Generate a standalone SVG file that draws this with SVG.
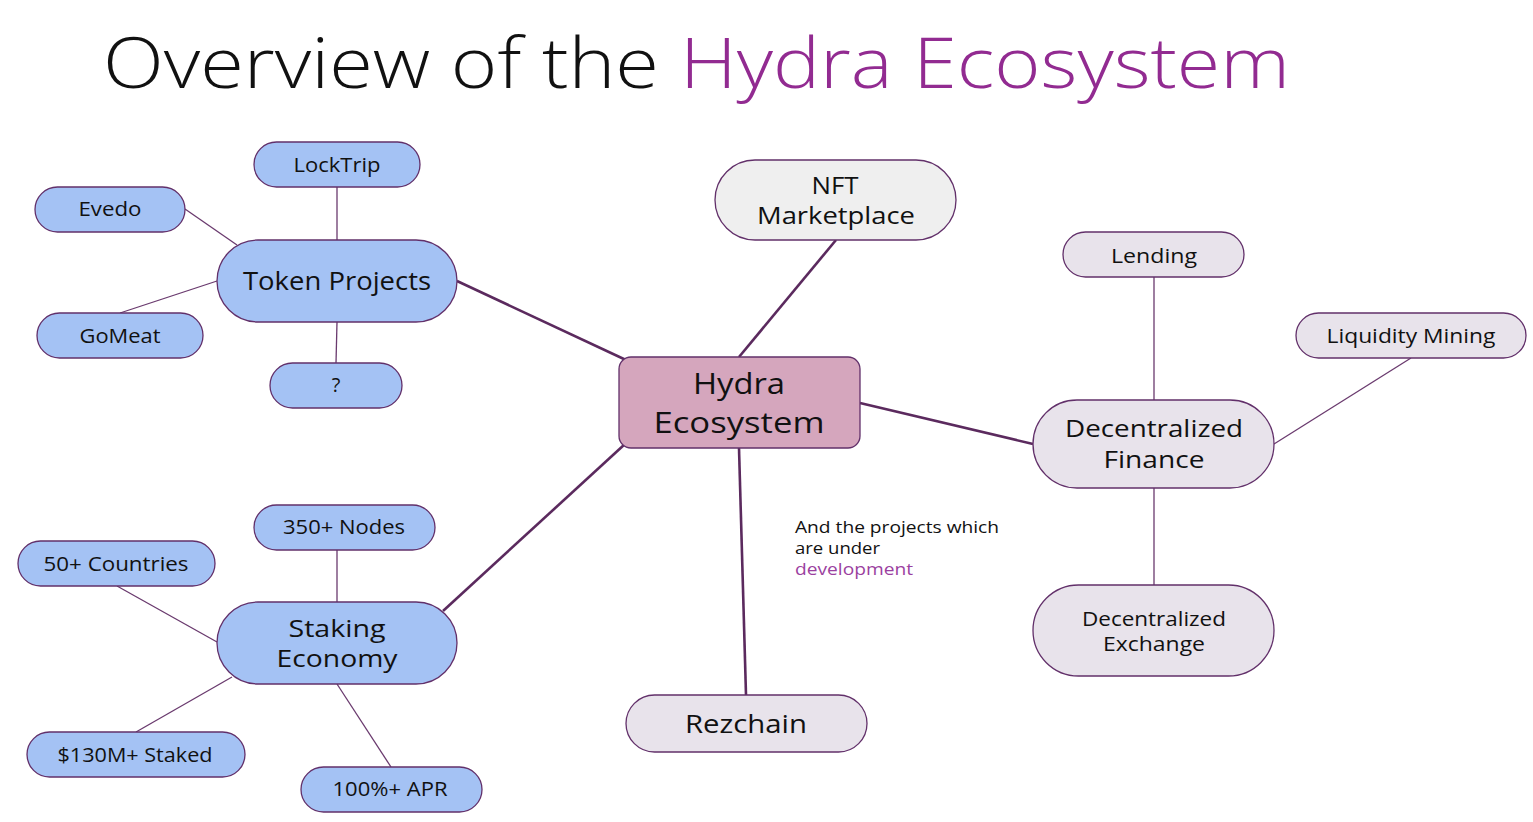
<svg xmlns="http://www.w3.org/2000/svg" width="1533" height="822" viewBox="0 0 1533 822">
<style>
text{font-family:"Open Sans","Liberation Sans",sans-serif;fill:#111;text-anchor:middle}
.title{font-size:70px;font-weight:300;text-anchor:start}
.blue{fill:#A4C2F4;stroke:#62306A;stroke-width:1.3}
.lav{fill:#E8E3EB;stroke:#62306A;stroke-width:1.3}
.gray{fill:#EFEFEF;stroke:#62306A;stroke-width:1.3}
.pink{fill:#D5A6BD;stroke:#62306A;stroke-width:1.3}
.thick{stroke:#5B2A5E;stroke-width:2.6;fill:none}
.thin{stroke:#6A3A6E;stroke-width:1.3;fill:none}
.s20{font-size:20px}
.s24{font-size:24px}
.note{font-size:16px;text-anchor:start}
</style>
<rect width="1533" height="822" fill="#fff"/>
<g id="title">
<text class="title" x="103" y="88" textLength="556" lengthAdjust="spacingAndGlyphs">Overview of the</text>
<text class="title" x="680" y="88" textLength="610" lengthAdjust="spacingAndGlyphs" style="fill:#922B91">Hydra Ecosystem</text>
</g>
<g id="connectors">
<line class="thick" x1="626" y1="360" x2="457" y2="281"/>
<line class="thick" x1="739" y1="357" x2="836" y2="240"/>
<line class="thick" x1="860" y1="403" x2="1033" y2="444"/>
<line class="thick" x1="739" y1="448" x2="746" y2="695"/>
<line class="thick" x1="625" y1="444" x2="443" y2="611"/>
<line class="thin" x1="337" y1="187" x2="337" y2="240"/>
<line class="thin" x1="185" y1="209" x2="237" y2="245"/>
<line class="thin" x1="120" y1="313" x2="217" y2="281"/>
<line class="thin" x1="336" y1="363" x2="337" y2="322"/>
<line class="thin" x1="1154" y1="277" x2="1154" y2="400"/>
<line class="thin" x1="1411" y1="358" x2="1274" y2="444"/>
<line class="thin" x1="1154" y1="488" x2="1154" y2="585"/>
<line class="thin" x1="337" y1="550" x2="337" y2="602"/>
<line class="thin" x1="117" y1="586" x2="217" y2="642"/>
<line class="thin" x1="136" y1="732" x2="232" y2="677"/>
<line class="thin" x1="391" y1="767" x2="337" y2="684"/>
</g>
<g id="token-projects">
<rect class="blue" x="217" y="240" width="240" height="82" rx="41"/>
<text x="337" y="290" style="font-size:25px" textLength="188" lengthAdjust="spacingAndGlyphs">Token Projects</text>
</g>
<g id="locktrip">
<rect class="blue" x="254" y="142" width="166" height="45" rx="22.5"/>
<text class="s20" x="337" y="172" textLength="87" lengthAdjust="spacingAndGlyphs">LockTrip</text>
</g>
<g id="evedo">
<rect class="blue" x="35" y="187" width="150" height="45" rx="22.5"/>
<text class="s20" x="110" y="216" textLength="63" lengthAdjust="spacingAndGlyphs">Evedo</text>
</g>
<g id="gomeat">
<rect class="blue" x="37" y="313" width="166" height="45" rx="22.5"/>
<text class="s20" x="120" y="343" textLength="81" lengthAdjust="spacingAndGlyphs">GoMeat</text>
</g>
<g id="unknown">
<rect class="blue" x="270" y="363" width="132" height="45" rx="22.5"/>
<text class="s20" x="336" y="392">?</text>
</g>
<g id="hydra">
<rect class="pink" x="619" y="357" width="241" height="91" rx="12"/>
<text x="739" y="394" style="font-size:30px" textLength="92" lengthAdjust="spacingAndGlyphs">Hydra</text>
<text x="739" y="433" style="font-size:30px" textLength="171" lengthAdjust="spacingAndGlyphs">Ecosystem</text>
</g>
<g id="nft">
<rect class="gray" x="715" y="160" width="241" height="80" rx="40"/>
<text class="s24" x="835" y="194" textLength="47" lengthAdjust="spacingAndGlyphs">NFT</text>
<text class="s24" x="836" y="224" textLength="158" lengthAdjust="spacingAndGlyphs">Marketplace</text>
</g>
<g id="defi">
<rect class="lav" x="1033" y="400" width="241" height="88" rx="44"/>
<text class="s24" x="1154" y="437" textLength="178" lengthAdjust="spacingAndGlyphs">Decentralized</text>
<text class="s24" x="1154" y="468" textLength="101" lengthAdjust="spacingAndGlyphs">Finance</text>
</g>
<g id="lending">
<rect class="lav" x="1063" y="232" width="181" height="45" rx="22.5"/>
<text class="s20" x="1154" y="263" textLength="86" lengthAdjust="spacingAndGlyphs">Lending</text>
</g>
<g id="liquidity">
<rect class="lav" x="1296" y="313" width="230" height="45" rx="22.5"/>
<text class="s20" x="1411" y="343" textLength="169" lengthAdjust="spacingAndGlyphs">Liquidity Mining</text>
</g>
<g id="dex">
<rect class="lav" x="1033" y="585" width="241" height="91" rx="45.5"/>
<text class="s20" x="1154" y="626" textLength="144" lengthAdjust="spacingAndGlyphs">Decentralized</text>
<text class="s20" x="1154" y="651" textLength="102" lengthAdjust="spacingAndGlyphs">Exchange</text>
</g>
<g id="rezchain">
<rect class="lav" x="626" y="695" width="241" height="57" rx="28.5"/>
<text x="746" y="733" style="font-size:25px" textLength="122" lengthAdjust="spacingAndGlyphs">Rezchain</text>
</g>
<g id="staking">
<rect class="blue" x="217" y="602" width="240" height="82" rx="41"/>
<text x="337" y="637" style="font-size:23px" textLength="97" lengthAdjust="spacingAndGlyphs">Staking</text>
<text x="337" y="667" style="font-size:23px" textLength="121" lengthAdjust="spacingAndGlyphs">Economy</text>
</g>
<g id="nodes350">
<rect class="blue" x="254" y="505" width="181" height="45" rx="22.5"/>
<text class="s20" x="344" y="534" textLength="122" lengthAdjust="spacingAndGlyphs">350+ Nodes</text>
</g>
<g id="countries">
<rect class="blue" x="18" y="541" width="197" height="45" rx="22.5"/>
<text class="s20" x="116" y="571" textLength="145" lengthAdjust="spacingAndGlyphs">50+ Countries</text>
</g>
<g id="staked">
<rect class="blue" x="27" y="732" width="218" height="45" rx="22.5"/>
<text class="s20" x="135" y="762" textLength="155" lengthAdjust="spacingAndGlyphs">$130M+ Staked</text>
</g>
<g id="apr">
<rect class="blue" x="301" y="767" width="181" height="45" rx="22.5"/>
<text class="s20" x="390" y="796" textLength="115" lengthAdjust="spacingAndGlyphs">100%+ APR</text>
</g>
<g id="note">
<text class="note" x="795" y="533" textLength="204" lengthAdjust="spacingAndGlyphs">And the projects which</text>
<text class="note" x="795" y="554" textLength="85" lengthAdjust="spacingAndGlyphs">are under</text>
<text class="note" x="795" y="575" textLength="118" lengthAdjust="spacingAndGlyphs" style="fill:#9B3FA0">development</text>
</g>
</svg>
